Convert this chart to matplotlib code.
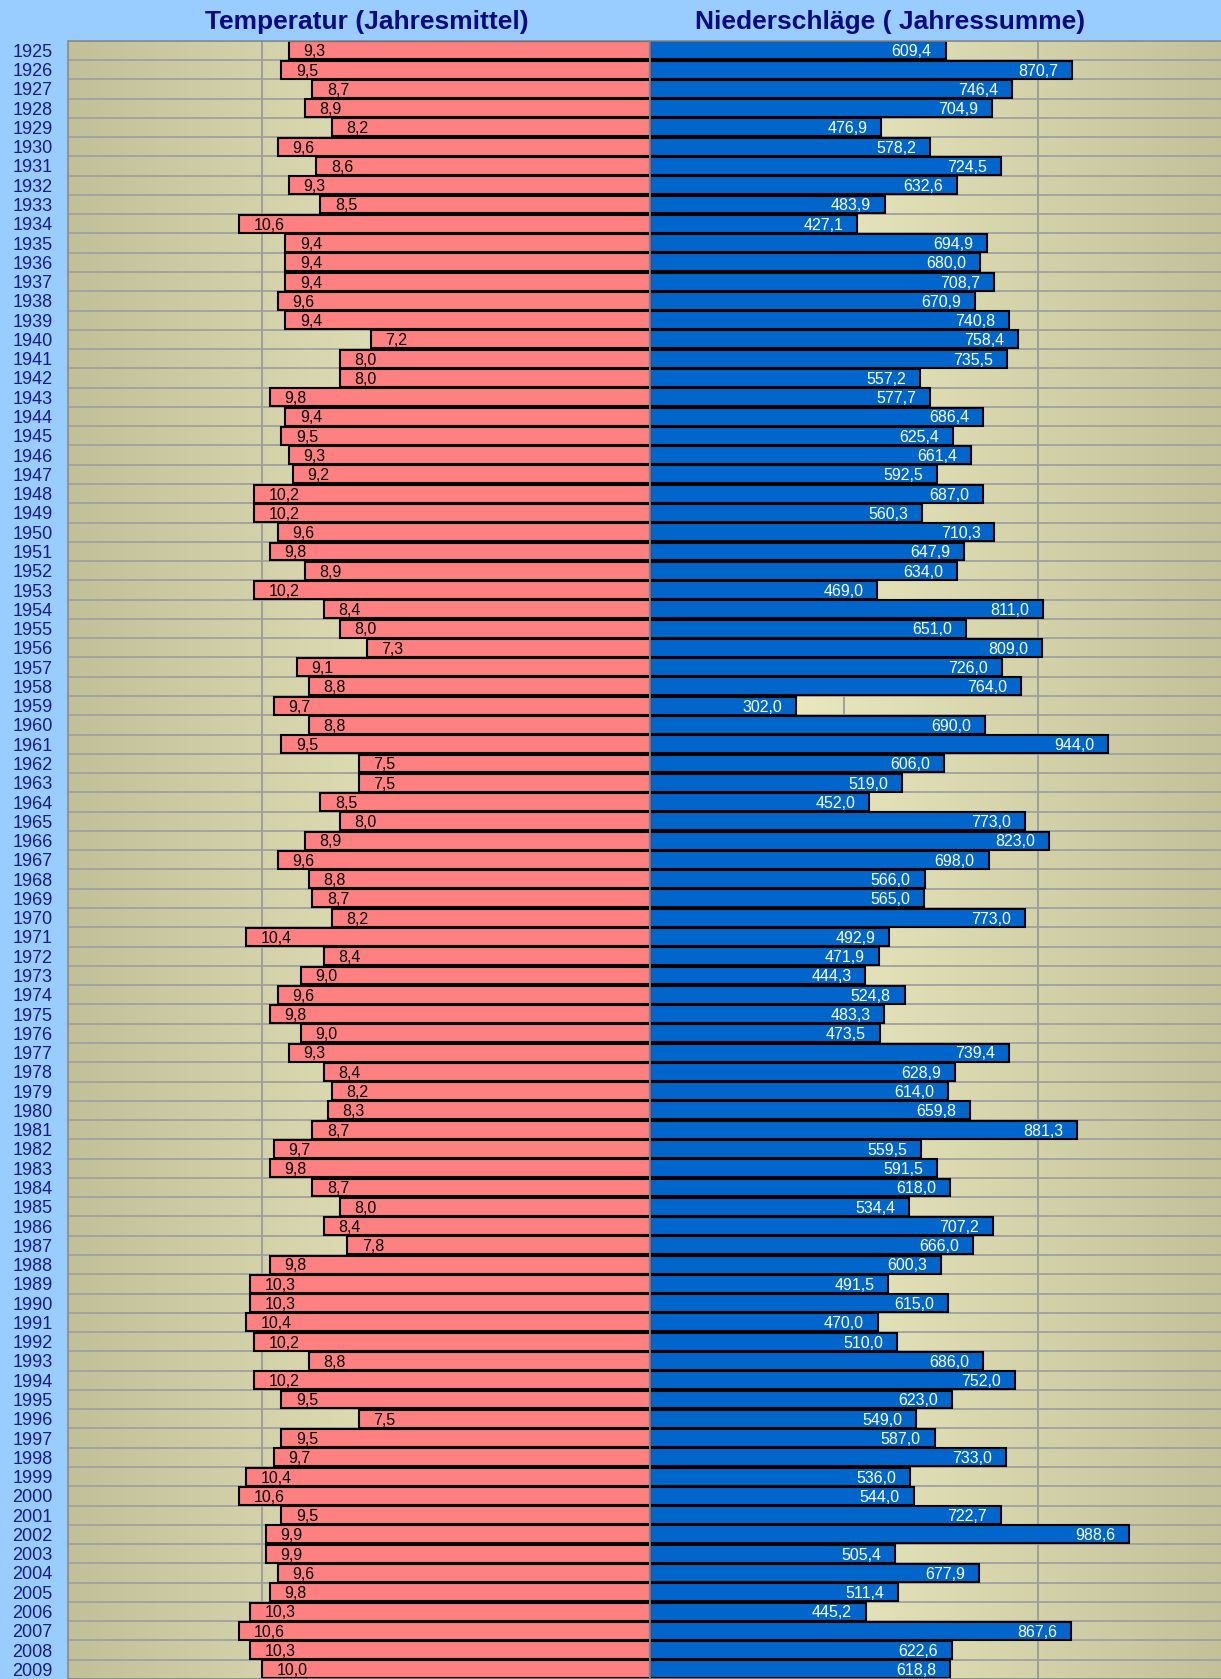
import numpy as np
import matplotlib
matplotlib.use("Agg")
import matplotlib.pyplot as plt
from matplotlib.colors import LinearSegmentedColormap

plt.rcParams['font.family'] = ['Liberation Sans', 'DejaVu Sans']

years = list(range(1925, 2010))
temperatur = [9.3, 9.5, 8.7, 8.9, 8.2, 9.6, 8.6, 9.3, 8.5, 10.6,
              9.4, 9.4, 9.4, 9.6, 9.4, 7.2, 8.0, 8.0, 9.8, 9.4,
              9.5, 9.3, 9.2, 10.2, 10.2, 9.6, 9.8, 8.9, 10.2, 8.4,
              8.0, 7.3, 9.1, 8.8, 9.7, 8.8, 9.5, 7.5, 7.5, 8.5,
              8.0, 8.9, 9.6, 8.8, 8.7, 8.2, 10.4, 8.4, 9.0, 9.6,
              9.8, 9.0, 9.3, 8.4, 8.2, 8.3, 8.7, 9.7, 9.8, 8.7,
              8.0, 8.4, 7.8, 9.8, 10.3, 10.3, 10.4, 10.2, 8.8, 10.2,
              9.5, 7.5, 9.5, 9.7, 10.4, 10.6, 9.5, 9.9, 9.9, 9.6,
              9.8, 10.3, 10.6, 10.3, 10.0]
niederschlag = [609.4, 870.7, 746.4, 704.9, 476.9, 578.2, 724.5, 632.6, 483.9, 427.1,
                694.9, 680.0, 708.7, 670.9, 740.8, 758.4, 735.5, 557.2, 577.7, 686.4,
                625.4, 661.4, 592.5, 687.0, 560.3, 710.3, 647.9, 634.0, 469.0, 811.0,
                651.0, 809.0, 726.0, 764.0, 302.0, 690.0, 944.0, 606.0, 519.0, 452.0,
                773.0, 823.0, 698.0, 566.0, 565.0, 773.0, 492.9, 471.9, 444.3, 524.8,
                483.3, 473.5, 739.4, 628.9, 614.0, 659.8, 881.3, 559.5, 591.5, 618.0,
                534.4, 707.2, 666.0, 600.3, 491.5, 615.0, 470.0, 510.0, 686.0, 752.0,
                623.0, 549.0, 587.0, 733.0, 536.0, 544.0, 722.7, 988.6, 505.4, 677.9,
                511.4, 445.2, 867.6, 622.6, 618.8]

W, H = 1221, 1679
fig = plt.figure(figsize=(W / 100, H / 100), dpi=100)
fig.patch.set_facecolor('#99ccff')

top = 40.7
center = 650
half = 582
ax_l = fig.add_axes([(center - half) / W, 0, half / W, 1 - top / H])
ax_r = fig.add_axes([center / W, 0, half / W, 1 - top / H])

grad = LinearSegmentedColormap.from_list('bg', ['#c2c099', '#f7f5c9'])
g = np.linspace(0, 1, 256).reshape(1, -1)

y = np.arange(len(years))

for ax, flip in ((ax_l, False), (ax_r, True)):
    ax.imshow(g[:, ::-1] if flip else g, cmap=grad, aspect='auto',
              extent=(0, 1, 0, 1), transform=ax.transAxes, zorder=0)
    ax.set_ylim(len(years) - 0.5, -0.5)
    ax.set_yticks(y)
    ax.set_yticks(np.arange(-0.5, len(years), 1), minor=True)
    ax.grid(True, which='minor', axis='y', color='#a0a0a0', lw=1.3, zorder=1)
    ax.grid(True, which='major', axis='x', color='#9a9a9a', lw=1.3, zorder=1)
    ax.tick_params(which='both', length=0, labelbottom=False)
    for s in ax.spines.values():
        s.set_color('#8a8a8a')
        s.set_linewidth(1.2)
    ax.set_axisbelow(True)

# linke Seite: Temperatur
ax_l.set_xlim(15, 0)
ax_l.set_xticks([5, 10])
ax_l.barh(y, temperatur, height=0.93, color='#ff8080', edgecolor='black', lw=1.5, zorder=2)
ax_l.set_yticklabels([str(j) for j in years], fontsize=13, color='#1a1a8c')
ax_l.tick_params(axis='y', pad=11)
for i, v in enumerate(temperatur):
    ax_l.annotate(f"{v:.1f}".replace('.', ','), (v, i), xytext=(10.5, -1),
                  textcoords='offset points', ha='left', va='center',
                  fontsize=11.5, color='black', zorder=3)

# rechte Seite: Niederschlag
ax_r.set_xlim(0, 1200)
ax_r.set_xticks([400, 800])
ax_r.barh(y, niederschlag, height=0.93, color='#0066cc', edgecolor='black', lw=1.5, zorder=2)
ax_r.tick_params(axis='y', labelleft=False)
for i, v in enumerate(niederschlag):
    ax_r.annotate(f"{v:.1f}".replace('.', ','), (v, i), xytext=(-10, -1),
                  textcoords='offset points', ha='right', va='center',
                  fontsize=11.5, color='white', zorder=3)

fig.text(367 / W, 1 - 21.5 / H, 'Temperatur (Jahresmittel)', ha='center', va='center',
         fontsize=19, fontweight='bold', color='#0a0a80')
fig.text(890 / W, 1 - 21.5 / H, 'Niederschläge ( Jahressumme)', ha='center', va='center',
         fontsize=19, fontweight='bold', color='#0a0a80')

fig.savefig('out.png', dpi=100, facecolor=fig.get_facecolor())
